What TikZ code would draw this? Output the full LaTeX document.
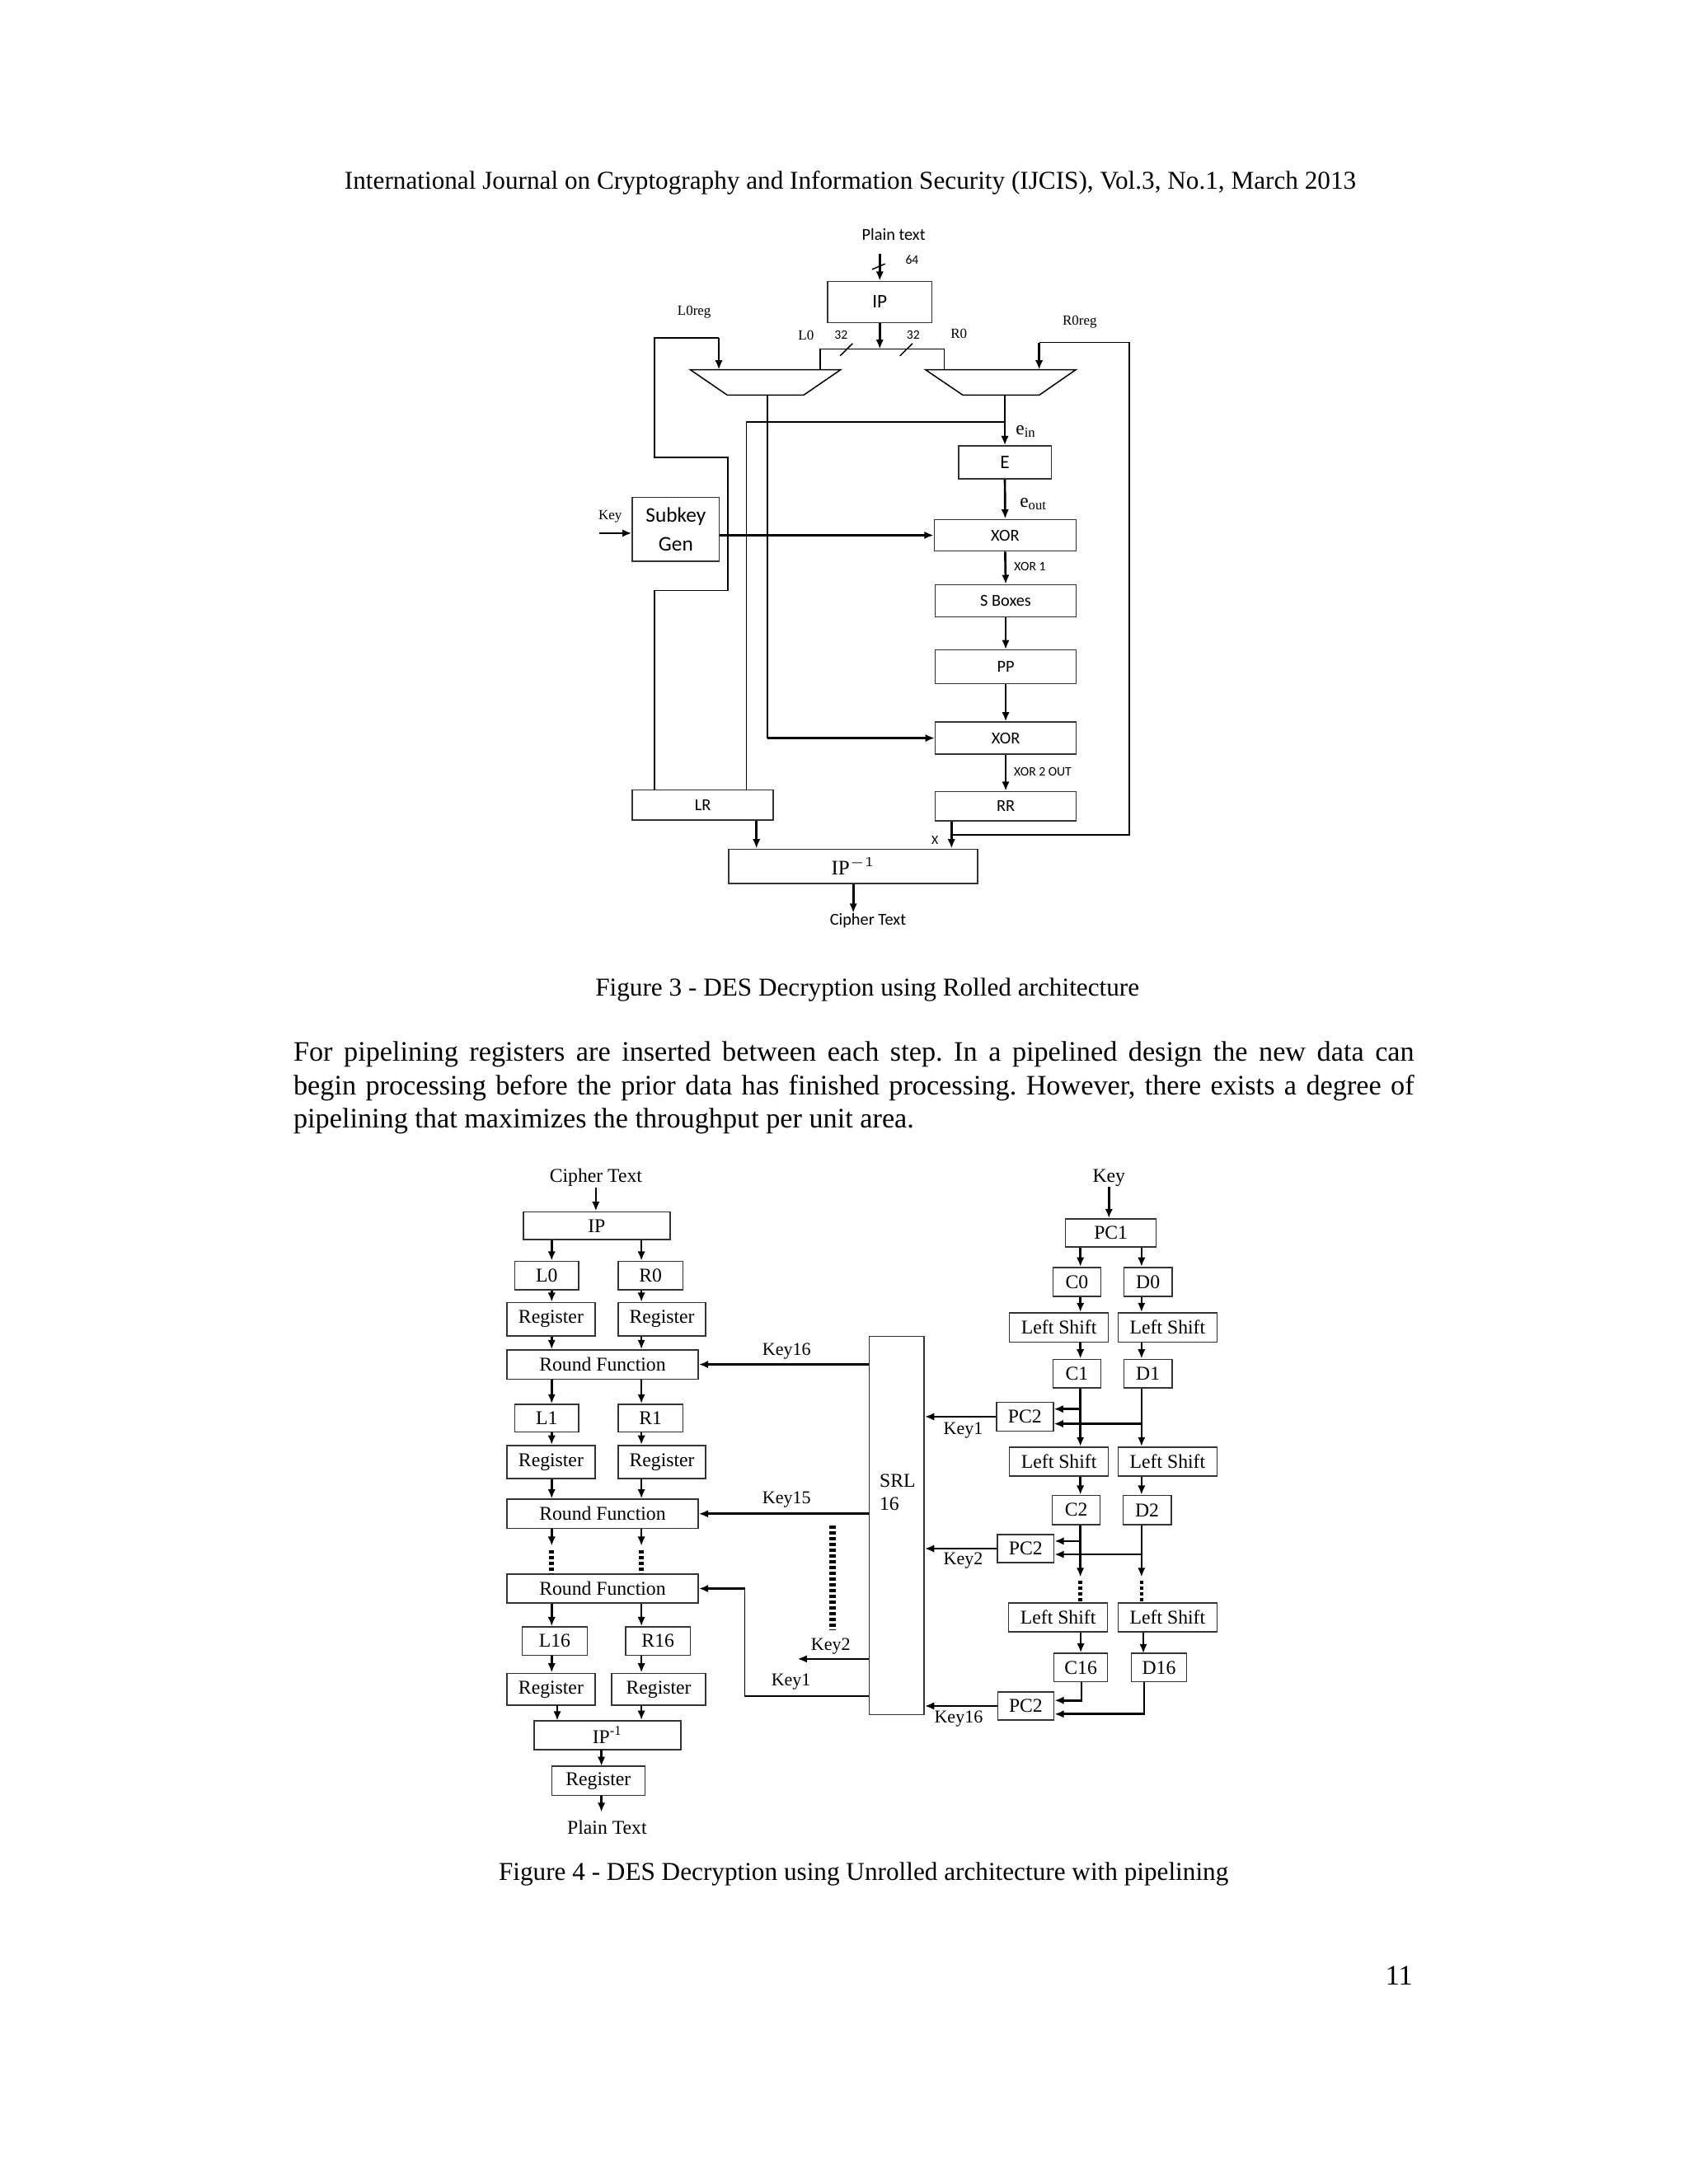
\documentclass[tikz,border=0pt]{standalone}
\usepackage{fontspec}
\setmainfont{Liberation Serif}
\newfontfamily\calibri{Carlito}
\usetikzlibrary{arrows.meta}
\frenchspacing

\def\px{0.017814cm}

\tikzset{
  box/.style={draw=black!80, line width=0.45pt, inner sep=0pt},
  sz/.style 2 args={minimum width=#1*\px, minimum height=#2*\px},
  arr/.style={-{Latex[length=3.4pt,width=2.8pt]}, line width=0.8pt},
  wire/.style={line width=0.45pt},
  dots/.style={line width=1.7pt, dash pattern=on 1.2pt off 0.9pt},
  sans/.style={font=\calibri\fontsize{6.1}{7}\selectfont, inner sep=0pt},
  sansbig/.style={font=\calibri\fontsize{7}{8}\selectfont, inner sep=0pt},
  smalltag/.style={font=\calibri\fontsize{4.7}{5.5}\selectfont, inner sep=0pt},
  tag/.style={font=\fontsize{5.1}{6}\selectfont, inner sep=0pt},
  rom/.style={font=\fontsize{7.1}{8.5}\selectfont, inner sep=0pt},
  keytag/.style={font=\fontsize{6.6}{8}\selectfont, inner sep=0pt},
  body/.style={font=\fontsize{10.26}{12.1}\selectfont, inner sep=0pt},
  figcap/.style={font=\fontsize{9.36}{11}\selectfont, inner sep=0pt},
}

\begin{document}
\begin{tikzpicture}[x=\px, y=-\px]
  \useasboundingbox[fill=white] (0,0) rectangle (1212,1568);

  % running head, text and captions
  \node[figcap, anchor=base] (head) at (610.4,136) {International Journal on Cryptography and Information Security (IJCIS), Vol.3, No.1, March 2013};
  \node[figcap, anchor=base] (cap3) at (622.6,715) {Figure 3 - DES Decryption using Rolled architecture};
  \node[body, anchor=base west] (par1) at (210.3,762) {\makebox[14.324cm][s]{For pipelining registers are inserted between each step. In a pipelined design the new data can}};
  \node[body, anchor=base west] (par2) at (210.3,786) {\makebox[14.324cm][s]{begin processing before the prior data has finished processing. However, there exists a degree of}};
  \node[body, anchor=base west] (par3) at (210.3,810) {pipelining that maximizes the throughput per unit area.};
  \node[figcap, anchor=base] (cap4) at (619.9,1350) {Figure 4 - DES Decryption using Unrolled architecture with pipelining};
  \node[body, anchor=base east] (pgno) at (1014.4,1425) {11};

  % Figure 3: rolled architecture
  \node[sans] (pt3) at (641.5,168.5) {Plain text};
  \node[box, sansbig, sz={75}{29.5}] (ip3) at (631.5,216.8) {IP};
  \coordinate (pin) at (631.5,182);
  \draw[arr] (pin) -- (ip3.north);
  \draw[wire] (626,193.4) -- (635.4,189.4);
  \node[smalltag] (w64) at (654.7,186.5) {64};

  % split of IP output
  \coordinate (bus) at (631.5,250.6);
  \draw[arr] (ip3.south) -- (bus);
  \draw[wire] (588.7,265.4) -- (588.7,250.6) -- (677.7,250.6) -- (677.7,265.4);
  \draw[wire] (603,255.5) -- (612,246.6);
  \draw[wire] (646,255.5) -- (655,246.6);
  \node[tag] (l0t) at (578.6,240.7) {L0};
  \node[smalltag] (w32a) at (603.7,240.7) {32};
  \node[smalltag] (w32b) at (655.5,240.7) {32};
  \node[tag] (r0t) at (688.3,239.7) {R0};
  \node[tag] (l0reg) at (498.3,224) {L0reg};
  \node[tag] (r0reg) at (775,230.9) {R0reg};

  % multiplexers
  \draw[wire] (495.4,265.4) -- (603.5,265.4) -- (576.8,283.7) -- (522.1,283.7) -- cycle;
  \draw[wire] (664.2,265.4) -- (772.3,265.4) -- (745.9,283.7) -- (691.2,283.7) -- cycle;
  \coordinate (lmux) at (550.9,283.7);
  \coordinate (rmux) at (721.3,283.7);

  % round datapath
  \node[box, sansbig, sz={66.6}{23.7}] (e3) at (721.3,332) {E};
  \node[box, sans, sz={101.7}{22.7}] (xor1) at (721.5,384.3) {XOR};
  \node[box, sans, sz={101}{22.9}] (sb3) at (721.9,431.3) {S Boxes};
  \node[box, sans, sz={101}{24}] (pp3) at (721.9,478.7) {PP};
  \node[box, sans, sz={101}{23}] (xor2) at (721.9,529.9) {XOR};
  \node[box, sans, sz={101}{21}] (rr3) at (721.9,578.8) {RR};
  \node[box, sans, sz={101.2}{21.6}] (lr3) at (504.5,577.9) {LR};
  \node[box, align=center, font=\calibri\fontsize{7.6}{10.5}\selectfont, inner sep=0pt, sz={62.4}{45.8}] (sk3) at (485.1,380) {Subkey\\Gen};
  \node[box, sz={178.6}{24.8}, font=\fontsize{7.5}{8}\selectfont] (ipi3) at (612.5,622) {IP$^{-1}$};
  \node[sans] (ct3) at (623,661) {Cipher Text};

  \node[font=\fontsize{7}{8}\selectfont, inner sep=0pt] (ein) at (736.6,309.8) {e\textsubscript{in}};
  \node[font=\fontsize{7}{8}\selectfont, inner sep=0pt] (eout) at (742,362) {e\textsubscript{out}};
  \node[smalltag] (x1t) at (739.3,406.9) {XOR 1};
  \node[smalltag] (x2t) at (748.5,554.2) {XOR 2 OUT};
  \node[smalltag] (xt) at (671.1,603) {X};
  \node[tag] (key3) at (438,371) {Key};

  \draw[arr] (rmux) -- (e3.north);
  \draw[arr] (e3.south) -- (xor1.north);
  \draw[arr] (xor1.south) -- (sb3.north);
  \draw[arr] (sb3.south) -- (pp3.north);
  \draw[arr] (pp3.south) -- (xor2.north);
  \draw[arr] (xor2.south) -- (rr3.north);

  % key input
  \coordinate (kin) at (430.2,382.8);
  \draw[arr] (kin) -- (sk3.west |- kin);
  \draw[arr] (sk3.east |- xor1.west) -- (xor1.west);

  % left half feedback
  \coordinate (lreg) at (469.8,242.7);
  \draw[wire] (lr3.north -| lreg) |- (522.6,423.9) |- (469.8,328.5) -- (lreg) -- (516,242.7);
  \draw[arr] (516,242.7) -- (516,265.4);
  \coordinate (lb) at (535.8,302.9);
  \draw[wire] (rmux |- lb) -- (lb) -- (lb |- lr3.north);
  \draw[wire] (lmux) -- (lmux |- xor2.west);
  \draw[arr] (lmux |- xor2.west) -- (xor2.west);

  % right half feedback
  \coordinate (x3) at (683,599.5);
  \draw[arr] (rr3.south -| x3) -- (ipi3.north -| x3);
  \draw[wire] (x3) -- (810.6,599.5) -- (810.6,246) -- (745.9,246);
  \draw[arr] (745.9,246) -- (745.9,265.4);

  % output
  \coordinate (lrd) at (543,588.7);
  \draw[arr] (lr3.south -| lrd) -- (ipi3.north -| lrd);
  \draw[arr] (ipi3.south) -- (ipi3.south |- ct3.north);

  % Figure 4: unrolled and pipelined
  \node[rom] (ct4) at (427.7,845.7) {Cipher Text};
  \node[box, rom, sz={105.2}{20.1}] (ip4) at (428.3,880) {IP};
  \node[box, rom, sz={45.7}{20.4}] (l0) at (392.5,915.8) {L0};
  \node[box, rom, sz={46.2}{20.4}] (r0) at (467,915.8) {R0};
  \node[box, rom, sz={63.4}{23.8}] (rgl1) at (395.5,947.1) {Register};
  \node[box, rom, sz={62.6}{23.8}] (rgr1) at (475.2,947.1) {Register};
  \node[box, rom, sz={137.4}{20.9}] (rf1) at (432.5,979.6) {Round Function};
  \node[box, rom, sz={45.7}{20}] (l1) at (392.5,1018.2) {L1};
  \node[box, rom, sz={46.2}{20}] (r1) at (467,1018.2) {R1};
  \node[box, rom, sz={63.4}{23.8}] (rgl2) at (395.5,1049.6) {Register};
  \node[box, rom, sz={62.6}{23.8}] (rgr2) at (475.2,1049.6) {Register};
  \node[box, rom, sz={137.4}{20.9}] (rf2) at (432.5,1086.8) {Round Function};
  \node[box, rom, sz={137.4}{20.6}] (rf3) at (432.5,1140.5) {Round Function};
  \node[box, rom, sz={46.5}{20.3}] (l16) at (398.2,1178.2) {L16};
  \node[box, rom, sz={46.3}{20.3}] (r16) at (472.3,1178.2) {R16};
  \node[box, rom, sz={63.4}{23}] (rgl3) at (395.5,1212.8) {Register};
  \node[box, rom, sz={67.4}{23}] (rgr3) at (472.8,1212.8) {Register};
  \node[box, rom, sz={105.4}{20.9}] (ipi4) at (436.1,1245.8) {IP\textsuperscript{-1}};
  \node[box, rom, sz={66.9}{21}] (rg4) at (429.5,1278.5) {Register};
  \node[rom] (pt4) at (435.7,1311.8) {Plain Text};

  \coordinate (cl) at (396,0);
  \coordinate (cr) at (460.4,0);
  \draw[arr] (ct4.south) -- (ct4.south |- ip4.north);
  \draw[arr] (ip4.south -| cl) -- (l0.north -| cl);
  \draw[arr] (ip4.south -| cr) -- (r0.north -| cr);
  \draw[arr] (l0.south -| cl) -- (rgl1.north -| cl);
  \draw[arr] (r0.south -| cr) -- (rgr1.north -| cr);
  \draw[arr] (rgl1.south -| cl) -- (rf1.north -| cl);
  \draw[arr] (rgr1.south -| cr) -- (rf1.north -| cr);
  \draw[arr] (rf1.south -| cl) -- (l1.north -| cl);
  \draw[arr] (rf1.south -| cr) -- (r1.north -| cr);
  \draw[arr] (l1.south -| cl) -- (rgl2.north -| cl);
  \draw[arr] (r1.south -| cr) -- (rgr2.north -| cr);
  \draw[arr] (rgl2.south -| cl) -- (rf2.north -| cl);
  \draw[arr] (rgr2.south -| cr) -- (rf2.north -| cr);
  \draw[arr] (rf2.south -| cl) -- (396,1109.9);
  \draw[arr] (rf2.south -| cr) -- (460.4,1109.9);
  \draw[dots] (396,1113) -- (rf3.north -| cl);
  \draw[dots] (460.4,1113) -- (rf3.north -| cr);
  \draw[arr] (rf3.south -| cl) -- (l16.north -| cl);
  \draw[arr] (rf3.south -| cr) -- (r16.north -| cr);
  \draw[arr] (l16.south -| cl) -- (rgl3.north -| cl);
  \draw[arr] (r16.south -| cr) -- (rgr3.north -| cr);
  \draw[arr] (400,1224.3) -- (400,1235.3);
  \draw[arr] (rgr3.south -| cr) -- (ipi4.north -| cr);
  \draw[arr] (431.7,1256.2) -- (431.7,1268);
  \draw[arr] (431.7,1289) -- (431.7,1301);

  % shift register of round keys
  \node[box, sz={39.6}{271.6}] (srl) at (643.6,1095.1) {};
  \node[rom, anchor=base west] (srlt) at (631,1067.7) {SRL};
  \node[rom, anchor=base west] (srln) at (631,1084.2) {16};

  \draw[arr] (srl.west |- rf1.east) -- (rf1.east);
  \node[keytag] (k16t) at (564.6,970.4) {Key16};
  \draw[arr] (srl.west |- rf2.east) -- (rf2.east);
  \node[keytag] (k15t) at (564.6,1076.9) {Key15};
  \coordinate (k2end) at (572.5,1191);
  \draw[arr] (srl.west |- k2end) -- (k2end);
  \node[keytag] (k2t) at (596.3,1181.7) {Key2};
  \coordinate (k1) at (534.7,1217.7);
  \draw[wire] (srl.west |- k1) -- (k1) -- (k1 |- rf3.east);
  \draw[arr] (k1 |- rf3.east) -- (rf3.east);
  \node[keytag] (k1t) at (567.8,1207.6) {Key1};
  \draw[dots, line width=2.2pt] (597.6,1095.3) -- (597.6,1170.6);

  % key schedule
  \node[rom] (key4) at (796,845.7) {Key};
  \node[box, rom, sz={65.1}{20.3}] (pc1) at (797.4,885.2) {PC1};
  \node[box, rom, sz={34.5}{20.8}] (c0) at (773,920.3) {C0};
  \node[box, rom, sz={34.5}{20.8}] (d0) at (824,920.3) {D0};
  \node[box, rom, sz={71}{20.9}] (lsl1) at (760.1,953) {Left Shift};
  \node[box, rom, sz={70.8}{20.9}] (lsr1) at (838.1,953) {Left Shift};
  \node[box, rom, sz={34.5}{20.4}] (c1) at (773,986.1) {C1};
  \node[box, rom, sz={34.5}{20.4}] (d1) at (824,986.1) {D1};
  \node[box, rom, sz={40.7}{20.6}] (pc2a) at (735.7,1017.1) {PC2};
  \node[box, rom, sz={71}{20.7}] (lsl2) at (760.1,1049.3) {Left Shift};
  \node[box, rom, sz={70.8}{20.7}] (lsr2) at (838.1,1049.3) {Left Shift};
  \node[box, rom, sz={34.5}{20.9}] (c2) at (772.5,1084.1) {C2};
  \node[box, rom, sz={34.5}{20.9}] (d2) at (823.4,1084.1) {D2};
  \node[box, rom, sz={40.6}{20.1}] (pc2b) at (736.2,1111.8) {PC2};
  \node[box, rom, sz={71}{20.9}] (lsl3) at (759.5,1161.2) {Left Shift};
  \node[box, rom, sz={70.8}{20.9}] (lsr3) at (838.1,1161.2) {Left Shift};
  \node[box, rom, sz={38.5}{20.4}] (c16) at (775.8,1197.2) {C16};
  \node[box, rom, sz={39.8}{20.4}] (d16) at (831.9,1197.2) {D16};
  \node[box, rom, sz={40.4}{20}] (pc2c) at (736.3,1224.8) {PC2};

  \coordinate (kc) at (775.5,0);
  \coordinate (kd) at (819.4,0);
  \draw[arr] (key4.south) -- (key4.south |- pc1.north);
  \draw[arr] (pc1.south -| kc) -- (c0.north -| kc);
  \draw[arr] (pc1.south -| kd) -- (d0.north -| kd);
  \draw[arr] (c0.south -| kc) -- (lsl1.north -| kc);
  \draw[arr] (d0.south -| kd) -- (lsr1.north -| kd);
  \draw[arr] (lsl1.south -| kc) -- (c1.north -| kc);
  \draw[arr] (lsr1.south -| kd) -- (d1.north -| kd);
  \draw[arr] (c1.south -| kc) -- (lsl2.north -| kc);
  \draw[arr] (d1.south -| kd) -- (lsr2.north -| kd);
  \draw[arr] (lsl2.south -| kc) -- (c2.north -| kc);
  \draw[arr] (lsr2.south -| kd) -- (d2.north -| kd);
  \draw[arr] (c2.south -| kc) -- (775.5,1132.3);
  \draw[arr] (d2.south -| kd) -- (819.4,1132.3);
  \draw[dots, line width=1.3pt] (775.5,1135) -- (lsl3.north -| kc);
  \draw[dots, line width=1.3pt] (819.4,1135) -- (lsr3.north -| kd);
  \draw[arr] (lsl3.south -| c16) -- (c16.north);
  \draw[arr] (lsr3.south -| 820.7,0) -- (820.7,1187);

  % subkeys to PC2
  \coordinate (b1) at (775.5,1011.6);
  \coordinate (b2) at (819.4,1022.2);
  \coordinate (b3) at (775.5,1106.4);
  \coordinate (b4) at (819.4,1116);
  \coordinate (b5) at (776.3,1220.8);
  \coordinate (b6) at (821.3,1230.6);
  \draw[arr] (b1) -- (b1 -| pc2a.east);
  \draw[arr] (b2) -- (b2 -| pc2a.east);
  \draw[arr] (b3) -- (b3 -| pc2b.east);
  \draw[arr] (b4) -- (b4 -| pc2b.east);
  \draw[arr] (c16.south -| b5) -- (b5) -- (b5 -| pc2c.east);
  \draw[arr] (d16.south -| b6) -- (b6) -- (b6 -| pc2c.east);

  \draw[arr] (pc2a.west) -- (pc2a.west -| srl.east);
  \node[keytag] (k1r) at (691.4,1027.2) {Key1};
  \draw[arr] (pc2b.west) -- (pc2b.west -| srl.east);
  \node[keytag] (k2r) at (691.4,1120.4) {Key2};
  \draw[arr] (pc2c.west) -- (pc2c.west -| srl.east);
  \node[keytag] (k16r) at (688.1,1234) {Key16};
\end{tikzpicture}
\end{document}
